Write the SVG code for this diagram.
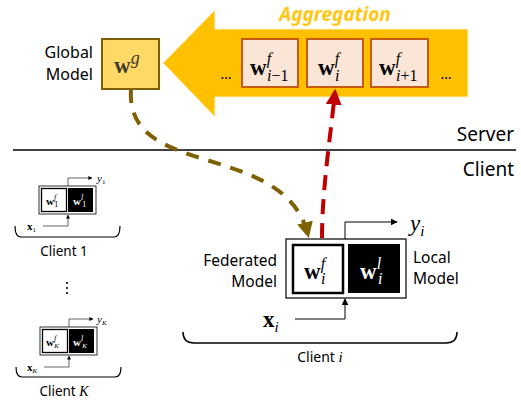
<svg xmlns="http://www.w3.org/2000/svg" width="521" height="402" viewBox="0 0 521 402">
<style>
.lbl{font-family:"Noto Sans","Open Sans",sans-serif;fill:#000}
.m{font-family:"Liberation Serif","DejaVu Serif",serif;fill:#000}
.mb{font-family:"Liberation Serif","DejaVu Serif",serif;font-weight:bold;fill:#000}
.mi{font-family:"Liberation Serif","DejaVu Serif",serif;font-style:italic;fill:#000}
.agg{fill:#FBE5D6;stroke:#C55A11;stroke-width:2}
.thin{fill:none;stroke:#000;stroke-width:1}
</style>
<defs>
<marker id="ah" viewBox="0 0 10 10" refX="9" refY="5" markerWidth="7" markerHeight="7" markerUnits="userSpaceOnUse" orient="auto"><path d="M0,0 L10,5 L0,10 z" fill="#000"/></marker>
<marker id="ahs" viewBox="0 0 10 10" refX="9" refY="5" markerWidth="4" markerHeight="4" markerUnits="userSpaceOnUse" orient="auto"><path d="M0,0 L10,5 L0,10 z" fill="#000"/></marker>
<marker id="ahr" viewBox="0 0 10 10" refX="8" refY="5" markerWidth="4" markerHeight="4" orient="auto"><path d="M0,0 L10,5 L0,10 z" fill="#C00000"/></marker>
<marker id="aho" viewBox="0 0 10 10" refX="8" refY="5" markerWidth="4" markerHeight="4" orient="auto"><path d="M0,0 L10,5 L0,10 z" fill="#7F6000"/></marker>
</defs>

<g id="aggregation">
<path d="M163,63 L215,10 L215,29 L468,29 L468,97 L215,97 L215,117 Z" fill="#FFC000" stroke="#FFF2CC" stroke-width="1"/>
<text x="335" y="21" text-anchor="middle" font-family="Noto Sans, Open Sans, sans-serif" font-weight="bold" font-style="italic" font-size="19" fill="#FFC000" stroke="#FFE699" stroke-width="0.6">Aggregation</text>
<text x="226" y="79" text-anchor="middle" class="lbl" font-size="14">…</text>
<text x="446" y="79" text-anchor="middle" class="lbl" font-size="14">…</text>
</g>
<g id="w_im1">
<rect class="agg" x="242" y="39" width="56" height="48"/>
<text x="250" y="75" class="mb" font-size="23">w<tspan class="mi" font-weight="normal" font-size="16" dy="-11">f</tspan><tspan class="mi" font-weight="normal" font-size="16" dx="-4" dy="17">i</tspan><tspan class="m" font-weight="normal" font-size="16">−1</tspan></text>
</g>
<g id="w_i">
<rect class="agg" x="307" y="39" width="56" height="48"/>
<text x="318" y="75" class="mb" font-size="23">w<tspan class="mi" font-weight="normal" font-size="16" dy="-11">f</tspan><tspan class="mi" font-weight="normal" font-size="16" dx="-4" dy="17">i</tspan></text>
</g>
<g id="w_ip1">
<rect class="agg" x="371" y="39" width="57" height="48"/>
<text x="379" y="75" class="mb" font-size="23">w<tspan class="mi" font-weight="normal" font-size="16" dy="-11">f</tspan><tspan class="mi" font-weight="normal" font-size="16" dx="-4" dy="17">i</tspan><tspan class="m" font-weight="normal" font-size="16">+1</tspan></text>
</g>

<g id="global">
<rect x="102" y="39" width="57" height="50" fill="#FFD966" stroke="#7F6000" stroke-width="2"/>
<text x="114" y="73" class="mb" font-size="23" style="fill:#3F3A2A">w<tspan class="mi" font-weight="normal" font-size="18" dy="-9" style="fill:#3F3A2A">g</tspan></text>
<text x="93" y="58" text-anchor="end" class="lbl" font-size="16">Global</text>
<text x="93" y="80" text-anchor="end" class="lbl" font-size="16">Model</text>
</g>

<g id="divider">
<line x1="13" y1="150" x2="516" y2="150" stroke="#000" stroke-width="1.5"/>
<text x="514" y="141" text-anchor="end" class="lbl" font-size="19">Server</text>
<text x="514" y="176" text-anchor="end" class="lbl" font-size="19">Client</text>
</g>

<g id="client_i">
<rect x="286" y="239" width="120" height="59" fill="#fff" stroke="#000" stroke-width="1.2"/>
<rect x="293" y="245" width="50" height="48" fill="#fff" stroke="#000" stroke-width="2.5"/>
<rect x="348" y="244" width="52" height="49" fill="#000"/>
<text x="304" y="279" class="mb" font-size="23">w<tspan class="mi" font-weight="normal" font-size="16" dy="-10">f</tspan><tspan class="mi" font-weight="normal" font-size="16" dx="-4" dy="15">i</tspan></text>
<text x="360" y="279" class="mb" font-size="23" style="fill:#fff">w<tspan class="mi" font-weight="normal" font-size="16" dy="-10" style="fill:#fff">l</tspan><tspan class="mi" font-weight="normal" font-size="16" dx="-3" dy="15" style="fill:#fff">i</tspan></text>
<text x="277" y="266" text-anchor="end" class="lbl" font-size="15.5">Federated</text>
<text x="277" y="287" text-anchor="end" class="lbl" font-size="15.5">Model</text>
<text x="413" y="263" class="lbl" font-size="15.5">Local</text>
<text x="413" y="284" class="lbl" font-size="15.5">Model</text>
<text x="410" y="231" class="mi" font-size="23">y<tspan font-size="15" dy="5">i</tspan></text>
<text x="263" y="327" class="mb" font-size="23">x<tspan class="mi" font-weight="normal" font-size="15" dy="5">i</tspan></text>
<path d="M183,332 Q183,343 194,343 L446,343 Q457,343 457,332" fill="none" stroke="#000" stroke-width="1.5"/>
<text x="320" y="362" text-anchor="middle" class="lbl" font-size="14">Client <tspan class="mi" font-size="15">i</tspan></text>
</g>

<g id="client_1">
<rect x="39" y="186" width="57" height="28" fill="#fff" stroke="#000" stroke-width="0.8"/>
<rect x="41.5" y="188.5" width="25" height="23" fill="#fff" stroke="#000" stroke-width="1.3"/>
<rect x="68" y="188" width="25" height="24" fill="#000"/>
<text x="46" y="205" class="mb" font-size="11">w<tspan class="mi" font-weight="normal" font-size="8" dy="-5">f</tspan><tspan class="m" font-weight="normal" font-size="8" dx="-2" dy="7">1</tspan></text>
<text x="73" y="205" class="mb" font-size="11" style="fill:#fff">w<tspan class="mi" font-weight="normal" font-size="8" dy="-5" style="fill:#fff">l</tspan><tspan class="m" font-weight="normal" font-size="8" dx="-1" dy="7" style="fill:#fff">1</tspan></text>
<text x="97" y="182" class="mi" font-size="11">y<tspan class="m" font-style="normal" font-size="7" dy="2">1</tspan></text>
<text x="27" y="230" class="mb" font-size="11">x<tspan class="m" font-weight="normal" font-size="7" dy="2">1</tspan></text>
<path d="M15,226 Q15,237 21,237 L114,237 Q120,237 120,226" fill="none" stroke="#000" stroke-width="1.2"/>
<text x="64" y="256" text-anchor="middle" class="lbl" font-size="13.5">Client 1</text>
</g>

<g id="dots">
<circle cx="67" cy="283" r="1.1" fill="#000"/>
<circle cx="67" cy="288" r="1.1" fill="#000"/>
<circle cx="67" cy="293" r="1.1" fill="#000"/>
</g>

<g id="client_K">
<rect x="40" y="327" width="57" height="28" fill="#fff" stroke="#000" stroke-width="0.8"/>
<rect x="42.5" y="329.5" width="25" height="23" fill="#fff" stroke="#000" stroke-width="1.3"/>
<rect x="69" y="329" width="25" height="24" fill="#000"/>
<text x="46" y="346" class="mb" font-size="11">w<tspan class="mi" font-weight="normal" font-size="8" dy="-5">f</tspan><tspan class="mi" font-weight="normal" font-size="7" dx="-2" dy="7">K</tspan></text>
<text x="73" y="346" class="mb" font-size="11" style="fill:#fff">w<tspan class="mi" font-weight="normal" font-size="8" dy="-5" style="fill:#fff">l</tspan><tspan class="mi" font-weight="normal" font-size="7" dx="-1" dy="7" style="fill:#fff">K</tspan></text>
<text x="97" y="323" class="mi" font-size="11">y<tspan font-size="7" dy="2">K</tspan></text>
<text x="27" y="371" class="mb" font-size="11">x<tspan class="mi" font-weight="normal" font-size="7" dy="2">K</tspan></text>
<path d="M16,367 Q16,377 22,377 L115,377 Q121,377 121,367" fill="none" stroke="#000" stroke-width="1.2"/>
<text x="64" y="396" text-anchor="middle" class="lbl" font-size="13.5">Client <tspan class="mi" font-size="14">K</tspan></text>
</g>

<g id="connectors">
<path d="M345,239 L345,222 L397,222" class="thin" marker-end="url(#ah)"/>
<path d="M295,319 L345,319 L345,299" class="thin" marker-end="url(#ah)"/>
<path d="M68,186 L68,178 L92,178" fill="none" stroke="#000" stroke-width="0.6" marker-end="url(#ahs)"/>
<path d="M43,226 L68,226 L68,215" fill="none" stroke="#000" stroke-width="0.6" marker-end="url(#ahs)"/>
<path d="M69,327 L69,319 L93,319" fill="none" stroke="#000" stroke-width="0.6" marker-end="url(#ahs)"/>
<path d="M44,367 L69,367 L69,356" fill="none" stroke="#000" stroke-width="0.6" marker-end="url(#ahs)"/>
<path d="M322,238 C322,190 330,140 335,92" fill="none" stroke="#C00000" stroke-width="4" stroke-dasharray="15,9" marker-end="url(#ahr)"/>
<path d="M131,90 C125,180 285,140 308,235" fill="none" stroke="#7F6000" stroke-width="4" stroke-dasharray="13,10" marker-end="url(#aho)"/>
</g>
</svg>
